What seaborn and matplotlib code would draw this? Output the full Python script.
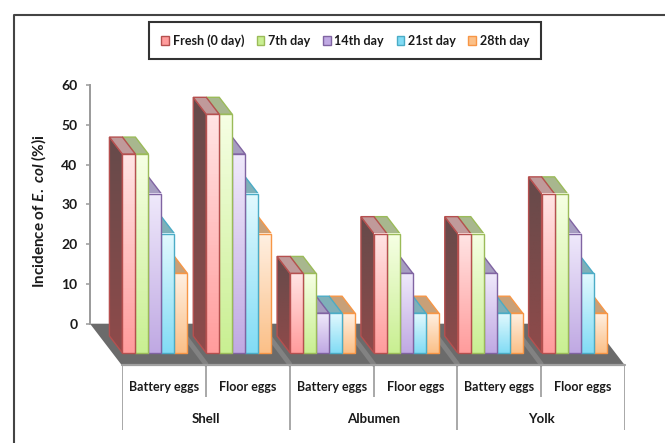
#!/usr/bin/env python3
import numpy as np
import pandas as pd
import matplotlib
matplotlib.use('Agg')
import matplotlib.pyplot as plt
from matplotlib.colors import LinearSegmentedColormap
from matplotlib.lines import Line2D
from matplotlib.patches import Patch, Polygon
import seaborn as sns

# data
tissues = ['Shell', 'Albumen', 'Yolk']
housing = ['Battery eggs', 'Floor eggs']
days = ['Fresh (0 day)', '7th day', '14th day', '21st day', '28th day']
fresh = [50, 60, 20, 30, 30, 40]
day7 = [50, 60, 20, 30, 30, 40]
day14 = [40, 50, 10, 20, 20, 30]
day21 = [30, 40, 10, 10, 10, 20]
day28 = [20, 30, 10, 10, 10, 10]
yticks = [0, 10, 20, 30, 40, 50, 60]

# colours per series: edge, gradient top, gradient bottom, side top, side bottom, roof
edge_cols = ['#b5504f', '#9bbb59', '#8064a2', '#4bacc6', '#f79646']
top_cols = ['#ffe4e4', '#f6ffe4', '#efe9fb', '#e2f9fe', '#fff0e2']
bot_cols = ['#ff9c9c', '#c9ef92', '#c0a9e3', '#82dcf5', '#fbc088']
side_cols = ['#664a4a', '#7f9060', '#a69dc0', '#6fa8b4', '#b0916f']
side_bot = ['#8f4a4a', '#7f9060', '#8f83ad', '#5d98a6', '#a5825f']
roof_cols = ['#c09a9a', '#a8b78e', '#a69dc0', '#7fb0b8', '#c8a078']

W, H = 665, 443
sns.set_theme(style='white')
plt.rcParams['font.family'] = ['Lato', 'DejaVu Sans']
plt.rcParams['mathtext.fontset'] = 'custom'
plt.rcParams['mathtext.it'] = 'Lato:italic:bold'
plt.rcParams['mathtext.rm'] = 'Lato:bold'
txt = '#1a1a1a'


def rect(x0, y_top, x1, y_bot):
    # pixel box -> figure fraction
    return [x0 / W, 1 - y_bot / H, (x1 - x0) / W, (y_bot - y_top) / H]


def fig_xy(x, y):
    return (x / W, 1 - y / H)


fig = plt.figure(figsize=(W / 100, H / 100), dpi=100, facecolor='white')

# outer frame runs off the image on the right and bottom
fig.add_artist(Line2D([14 / W, 14 / W, 1], [0, 1 - 14.5 / H, 1 - 14.5 / H], color='#444444', lw=1.5))

# floor
floor = [(90, 323.7), (593, 323.7), (625, 365.5), (122, 365.5)]
fig.add_artist(Polygon([fig_xy(*p) for p in floor], closed=True, transform=fig.transFigure,
                       fc='#6b6b6b', ec='none', zorder=0.5))
fig.add_artist(Line2D([122 / W, 625 / W], [1 - 364.5 / H] * 2, color='#a0a0a0', lw=1.6, zorder=0.6))
for k in range(1, 6):
    bx = 90 + k * 83.83
    fig.add_artist(Line2D([(bx + 32) / W, (bx + 8) / W], [1 - 364 / H, 1 - 332 / H],
                          color='#828282', lw=3.5, zorder=0.55))

# value axis stands at the back of the floor
ax_y = fig.add_axes(rect(90, 85, 91, 323.7), facecolor='none')
ax_y.set_zorder(3)
ax_y.set_ylim(0, 60)
ax_y.set_xticks([])
ax_y.set_yticks(yticks)
ax_y.set_yticklabels([str(v) for v in yticks], fontsize=10, fontweight='bold', color=txt)
ax_y.tick_params(axis='y', left=True, length=3, width=1.1, color='#9a9a9a', pad=6)
sns.despine(ax=ax_y, right=True, top=True, bottom=True)
ax_y.spines['left'].set_color('#9a9a9a')
ax_y.spines['left'].set_linewidth(1.4)
fig.text(39 / W, 1 - 211.5 / H, 'Incidence of $\\mathit{E.\\ col}$ (%)i', rotation=90,
         ha='center', va='center', fontsize=11, fontweight='bold', color=txt)

# bars
samples = [t + ' ' + h for t in tissues for h in housing]
df = pd.DataFrame({'sample': samples * 5,
                   'value': fresh + day7 + day14 + day21 + day28,
                   'day': [d for d in days for _ in samples]})
px_unit = (323.7 - 85) / 60
ax = fig.add_axes(rect(113, 353 - 60 * px_unit, 616, 353), facecolor='none')
ax.set_zorder(5)
sns.barplot(data=df, x='sample', y='value', hue='day', order=samples, hue_order=days,
            width=65 / 83.83, gap=0, saturation=1, legend=False, ax=ax)
ax.set_xlim(-0.5, 5.5)
ax.set_ylim(0, 60)
ax.axis('off')

dx = 13 / 83.83
dy = 17 / px_unit
grad = np.linspace(0, 1, 64).reshape(-1, 1)
for i, cont in enumerate(ax.containers):
    z = 10 + (4 - i) * 3
    cmap = LinearSegmentedColormap.from_list('c%d' % i, [top_cols[i], bot_cols[i]])
    cmap_side = LinearSegmentedColormap.from_list('s%d' % i, [side_cols[i], side_bot[i]])
    for bar in cont:
        x, w, h = bar.get_x(), bar.get_width(), bar.get_height()
        side = Polygon([(x, 0), (x - dx, dy), (x - dx, h + dy), (x, h)], closed=True, clip_on=False,
                       fc='none', ec=edge_cols[i], lw=1, zorder=z + 0.05)
        ax.add_patch(side)
        im = ax.imshow(grad, extent=[x - dx, x, 0, h + dy], aspect='auto', cmap=cmap_side, zorder=z)
        im.set_clip_path(side)
        im.set_clip_box(fig.bbox)  # bars stick out of the axes box at the top and left
        ax.add_patch(Polygon([(x, h), (x - dx, h + dy), (x + w - dx, h + dy), (x + w, h)], closed=True,
                             clip_on=False, fc=roof_cols[i], ec=edge_cols[i], lw=1, zorder=z + 0.1))
        ax.imshow(grad, extent=[x, x + w, 0, h], aspect='auto', cmap=cmap, zorder=z + 0.5, clip_on=False)
        bar.set_facecolor('none')
        bar.set_edgecolor(edge_cols[i])
        bar.set_linewidth(1)
        bar.set_zorder(z + 1)
        bar.set_clip_on(False)
ax.set_xlim(-0.5, 5.5)
ax.set_ylim(0, 60)

# two level category axis under the floor
ax_x = fig.add_axes(rect(122, 366, 625, 430), facecolor='none')
ax_x.set_xlim(0, 6)
ax_x.set_ylim(64, 0)
ax_x.axis('off')
ax_x.vlines([1, 3, 5], 0, 31, color='#9a9a9a', lw=1.2)
ax_x.vlines([0, 2, 4, 6], 0, 64, color='#9a9a9a', lw=1.2)
for k in range(6):
    ax_x.text(k + 0.5, 21, housing[k % 2], ha='center', va='center', fontsize=9, fontweight='bold', color=txt)
for k, t in enumerate(tissues):
    ax_x.text(2 * k + 1, 53, t, ha='center', va='center', fontsize=9.5, fontweight='bold', color=txt)

# legend
handles = [Patch(fc=bot_cols[i], ec=edge_cols[i], lw=1) for i in range(5)]
leg = fig.legend(handles, days, ncol=5, loc='center', bbox_to_anchor=(345.3 / W, 1 - 40.3 / H), frameon=True,
                 fancybox=False, edgecolor='#333333', framealpha=1, prop={'size': 9, 'weight': 'bold'},
                 handlelength=0.62, handleheight=0.7, handletextpad=0.3, columnspacing=1.0, borderpad=0.95,
                 labelcolor=txt)
leg.get_frame().set_linewidth(1.5)

fig.savefig('out.png', dpi=100)
